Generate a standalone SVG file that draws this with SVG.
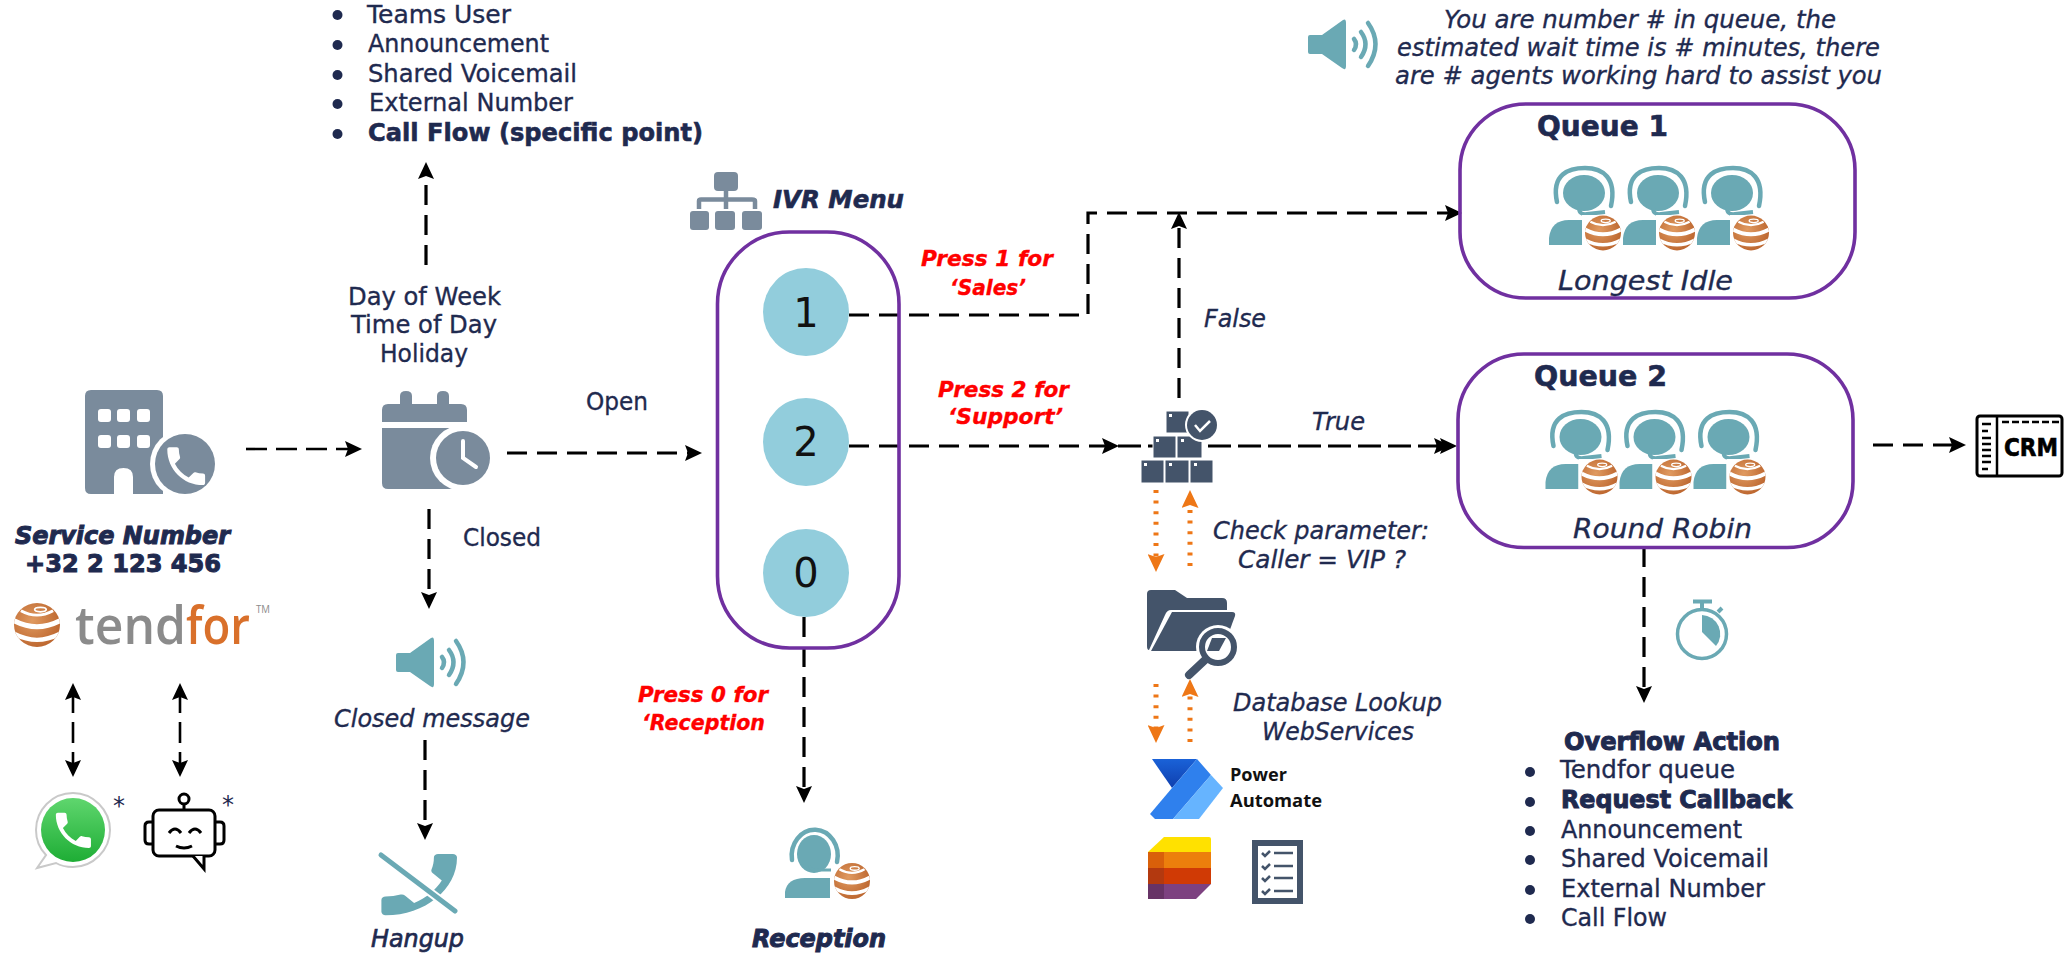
<svg xmlns="http://www.w3.org/2000/svg" xmlns:xlink="http://www.w3.org/1999/xlink" width="2064" height="954" viewBox="0 0 2064 954">
<style>
text{font-family:"DejaVu Sans","Liberation Sans",sans-serif;fill:#1f2a4f;stroke:#1f2a4f;stroke-width:.35px;font-size:24px}
.b{font-weight:bold;stroke-width:.6px}
.i{font-style:italic}
.r{fill:#f00;stroke:#f00;font-weight:bold;font-style:italic;font-size:22px}
.c{fill:none;stroke:#000;stroke-width:3.2;stroke-dasharray:20 10}
.t{fill:none;stroke:#000;stroke-width:2.6;stroke-dasharray:21 9}
.d{fill:none;stroke:#ee7716;stroke-width:5;stroke-dasharray:3 7.6}
.dv{fill:none;stroke:#ee7716;stroke-width:5;stroke-dasharray:3 7.6}
.box{fill:none;stroke:#7030a0;stroke-width:3.6}
.num{fill:#92cddc}
.g{fill:#7a8b9c}
.k{fill:#44546a}
.tl{fill:#6aa9b4}
.dot{fill:#1f2a4f}
.wv{fill:none;stroke:#6aa9b4;stroke-width:4.5;stroke-linecap:round}
.logo{font-family:"Open Sans",sans-serif;stroke:none}
</style>
<defs>
<marker id="a" markerUnits="userSpaceOnUse" markerWidth="17" markerHeight="16" viewBox="0 0 17 16" refX="8" refY="8" orient="auto"><path d="M0,0 L17,8 L0,16 L3,8z" fill="#000"/></marker>
<marker id="as" markerUnits="userSpaceOnUse" markerWidth="17" markerHeight="16" viewBox="0 0 17 16" refX="9" refY="8" orient="auto"><path d="M17,0 L0,8 L17,16 L14,8z" fill="#000"/></marker>
<marker id="o" markerUnits="userSpaceOnUse" markerWidth="18" markerHeight="17" viewBox="0 0 18 17" refX="8" refY="8.5" orient="auto"><path d="M0,0 L18,8.5 L0,17 L3,8.5z" fill="#ee7716"/></marker>
<radialGradient id="bg" cx=".4" cy=".4" r=".7"><stop offset="0" stop-color="#e09a60"/><stop offset="1" stop-color="#b9612a"/></radialGradient>
<linearGradient id="wg" x1="0" y1="0" x2="0" y2="1"><stop offset="0" stop-color="#5fd66e"/><stop offset="1" stop-color="#1ead35"/></linearGradient>
<linearGradient id="pa1" x1="0" y1="0" x2="0" y2="1"><stop offset="0" stop-color="#1a62d8"/><stop offset="1" stop-color="#0f3fae"/></linearGradient>
<clipPath id="bc"><circle r="20"/></clipPath>
<path id="ph" d="M6.62 10.79c1.44 2.83 3.76 5.14 6.59 6.59l2.2-2.2c.27-.27.67-.36 1.02-.24 1.12.37 2.33.57 3.57.57.55 0 1 .45 1 1V20c0 .55-.45 1-1 1-9.39 0-17-7.61-17-17 0-.55.45-1 1-1h3.5c.55 0 1 .45 1 1 0 1.25.2 2.45.57 3.57.11.35.03.74-.25 1.02l-2.2 2.2z"/>
<g id="ball"><circle r="20" fill="url(#bg)"/><g clip-path="url(#bc)" fill="none" stroke="#fff"><path d="M-20,-4 Q0,7 20,-4" stroke-width="4.5"/><path d="M-20,8 Q0,19 20,8" stroke-width="4"/><path d="M-14,-13 Q0,-5 14,-13" stroke-width="2.5"/><ellipse cx="3" cy="-14" rx="5" ry="2" stroke-width="1.5"/></g></g>
<g id="spk"><path class="tl" d="M2,16 L14,16 L35,1 Q38,-1 38,4 L38,47 Q38,52 34,49 L14,35 L2,35 Q0,35 0,33 L0,18 Q0,16 2,16z"/><path class="wv" d="M46,20 Q50,25 46,31"/><path class="wv" d="M53,13 Q62,25 53,38"/><path class="wv" d="M60,4 Q75,25 60,47"/></g>
<g id="agent"><rect x="45" y="38" width="42" height="30" fill="#fff"/><path class="tl" d="M0,66 L0,60 Q2,46 20,46 L45,46 L45,66z"/><path d="M7,28 A23 26 0 1 1 52,30" fill="none" stroke="#6aa9b4" stroke-width="4.5" stroke-linecap="round"/><ellipse class="tl" cx="29" cy="22" rx="17" ry="19"/><path d="M24,33 Q26,40 34,38 L46,38" fill="none" stroke="#6aa9b4" stroke-width="3"/><use href="#ball" transform="translate(67,49) scale(.9)"/></g>
<g id="qagent"><path class="tl" d="M0,79 L0,72 Q2,54 20,54 L33,54 L33,79z"/><path d="M8,36 C2,8 20,2 36,2 C54,2 68,12 62,40" fill="none" stroke="#6aa9b4" stroke-width="4.5" stroke-linecap="round"/><ellipse class="tl" cx="35" cy="27" rx="21" ry="18"/><path d="M30,42 Q30,49 38,48 L56,46" fill="none" stroke="#6aa9b4" stroke-width="4"/><rect x="33" y="49" width="40" height="35" fill="#fff"/><use href="#ball" transform="translate(54,67) scale(.9,.87)"/></g>
</defs>

<g id="connectors">
<path class="t" d="M246,449 H353" marker-end="url(#a)"/>
<path class="c" d="M507,453 H693" marker-end="url(#a)"/>
<path class="c" d="M426,265 V171" marker-end="url(#a)"/>
<path class="c" d="M429,509 V600" marker-end="url(#a)"/>
<path class="c" d="M425,740 V831" marker-end="url(#a)"/>
<path class="t" d="M73,692 V768" marker-start="url(#as)" marker-end="url(#a)"/>
<path class="t" d="M180,692 V768" marker-start="url(#as)" marker-end="url(#a)"/>
<path class="c" d="M849,315 H1088 V213 H1453" marker-end="url(#a)"/>
<path class="c" d="M849,446 H1110" marker-end="url(#a)"/>
<path class="c" d="M1179,398 V221" marker-end="url(#a)"/>
<path class="c" style="stroke-dasharray:23 7" d="M1118,446 H1448" marker-end="url(#a)"/>
<path class="c" style="stroke-dasharray:none" d="M1436,446 H1442" marker-end="url(#a)"/>
<path class="c" d="M804,617 V794" marker-end="url(#a)"/>
<path class="c" d="M1644,547 V694" marker-end="url(#a)"/>
<path class="c" d="M1873,445 H1957" marker-end="url(#a)"/>
<path class="d" d="M1156,490 V562" marker-end="url(#o)"/>
<path class="d" d="M1190,566 V500" marker-end="url(#o)"/>
<path class="d" d="M1156,684 V733" marker-end="url(#o)"/>
<path class="d" d="M1190,742 V689" marker-end="url(#o)"/>
</g>

<g id="service-number">
<path class="g" d="M91,390 H157 Q163,390 163,396 V494 H133 V477 Q133,468 123.500,468 Q114,468 114,477 V494 H91 Q85,494 85,488 V396 Q85,390 91,390z"/>
<g fill="#fff"><rect x="98" y="409" width="13" height="13" rx="3"/><rect x="117" y="409" width="13" height="13" rx="3"/><rect x="137" y="409" width="13" height="13" rx="3"/><rect x="98" y="435" width="13" height="13" rx="3"/><rect x="117" y="435" width="13" height="13" rx="3"/><rect x="137" y="435" width="13" height="13" rx="3"/></g>
<circle cx="185" cy="464" r="35" fill="#fff"/><circle class="g" cx="185" cy="464" r="30"/>
<use href="#ph" fill="#fff" transform="translate(161,441) scale(2.1)"/>
<text class="b i" x="15" y="544" textLength="215" lengthAdjust="spacingAndGlyphs" style="stroke-width:1px">Service Number</text>
<text class="b" x="25" y="572" textLength="196" lengthAdjust="spacingAndGlyphs" style="stroke-width:1px">+32 2 123 456</text>
</g>

<g id="tendfor-logo">
<use href="#ball" transform="translate(37,625) scale(1.15,1.1)"/>
<text class="logo" x="75" y="644" textLength="111" lengthAdjust="spacingAndGlyphs" style="font-size:52px;font-weight:600;fill:#8b8b8b">tend</text>
<text class="logo" x="186" y="644" textLength="64" lengthAdjust="spacingAndGlyphs" style="font-size:52px;font-weight:600;fill:#d9702b">for</text>
<text class="logo" x="256" y="613" textLength="14" lengthAdjust="spacingAndGlyphs" style="font-size:10px;fill:#8b8b8b">TM</text>
</g>

<g id="whatsapp">
<path d="M73,793 C52,793 36,810 36,830 C36,840 40,849 46,855 L37,868 L56,863 C61,866 67,867 73,867 C93,867 110,850 110,830 C110,810 93,793 73,793z" fill="#fff" stroke="#c9c9c9" stroke-width="2"/>
<circle cx="73" cy="830" r="32" fill="url(#wg)"/>
<use href="#ph" fill="#fff" transform="translate(50,807) scale(1.95)"/>
<text x="113" y="814" style="stroke:none">*</text>
</g>

<g id="chatbot" fill="none" stroke="#000" stroke-width="3">
<rect x="153" y="810" width="62" height="46" rx="6" fill="#fff"/>
<path d="M153,822 H149 Q145,822 145,826 V840 Q145,844 149,844 H153"/>
<path d="M215,822 H220 Q224,822 224,826 V840 Q224,844 220,844 H215"/>
<circle cx="184" cy="799" r="5"/><path d="M184,804 V810"/>
<path d="M193,856 L204,869 V856" fill="#fff"/>
<path d="M169,833 Q175,825 181,833"/><path d="M189,833 Q195,825 201,833"/><path d="M176,846 Q184,850 192,846"/>
<text x="222" y="813" style="stroke:none">*</text>
</g>

<g id="time-check">
<path class="g" d="M400,404 V396 Q400,391 406,391 Q412,391 412,396 V404 H437 V396 Q437,391 443,391 Q449,391 449,396 V404 H461 Q467,404 467,410 V422 H382 V410 Q382,404 388,404z"/>
<path class="g" d="M382,428 H467 V489 H388 Q382,489 382,483z"/>
<circle cx="463" cy="458" r="33" fill="#fff"/><circle class="g" cx="463" cy="458" r="27"/>
<path d="M463,441 V458 L476,467" fill="none" stroke="#fff" stroke-width="4" stroke-linecap="round"/>
<text x="348" y="305" textLength="153" lengthAdjust="spacingAndGlyphs">Day of Week</text>
<text x="351" y="333" textLength="146" lengthAdjust="spacingAndGlyphs">Time of Day</text>
<text x="380" y="362" textLength="88" lengthAdjust="spacingAndGlyphs">Holiday</text>
<text x="586" y="410" textLength="62" lengthAdjust="spacingAndGlyphs">Open</text>
<text x="463" y="546" textLength="78" lengthAdjust="spacingAndGlyphs">Closed</text>
</g>

<g id="destinations">
<circle class="dot" cx="337.500" cy="15" r="5"/><circle class="dot" cx="337.500" cy="45" r="5"/><circle class="dot" cx="337.500" cy="75" r="5"/><circle class="dot" cx="337.500" cy="104" r="5"/><circle class="dot" cx="337.500" cy="134" r="5"/>
<text x="367" y="23" textLength="144" lengthAdjust="spacingAndGlyphs">Teams User</text>
<text x="368" y="52" textLength="181" lengthAdjust="spacingAndGlyphs">Announcement</text>
<text x="368" y="82" textLength="209" lengthAdjust="spacingAndGlyphs">Shared Voicemail</text>
<text x="369" y="111" textLength="204" lengthAdjust="spacingAndGlyphs">External Number</text>
<text class="b" x="368" y="141" textLength="335" lengthAdjust="spacingAndGlyphs">Call Flow (specific point)</text>
</g>

<g id="closed-message">
<use href="#spk" transform="translate(396,637)"/>
<text class="i" x="334" y="727" textLength="196" lengthAdjust="spacingAndGlyphs">Closed message</text>
</g>

<g id="hangup">
<use href="#ph" class="tl" transform="translate(457,854) scale(-4.2,3.4) translate(-3,-3)"/>
<path d="M380,854 L456,912" stroke="#fff" stroke-width="9"/>
<path d="M381,855 L455,911" stroke="#6aa9b4" stroke-width="5" stroke-linecap="round"/>
<text class="i" x="371" y="947" textLength="93" lengthAdjust="spacingAndGlyphs" style="stroke-width:.7px">Hangup</text>
</g>

<g id="ivr-menu">
<g class="g"><rect x="714" y="172" width="24" height="19" rx="4"/><rect x="690" y="211" width="19" height="19" rx="3"/><rect x="715" y="211" width="20" height="19" rx="3"/><rect x="742" y="211" width="20" height="19" rx="3"/></g>
<path d="M726,190 V209 M699,209 V201 Q699,199.500 701,199.500 H752 Q755,199.500 755,201 V209" fill="none" stroke="#7a8b9c" stroke-width="4.500"/>
<text class="b i" x="773" y="208" textLength="131" lengthAdjust="spacingAndGlyphs">IVR Menu</text>
<rect class="box" x="717.500" y="232" width="181.500" height="416" rx="72" ry="72"/>
<ellipse class="num" cx="806" cy="312" rx="43" ry="44"/>
<ellipse class="num" cx="806" cy="442" rx="43" ry="44"/>
<ellipse class="num" cx="806" cy="573" rx="43" ry="44"/>
<text x="806" y="327" text-anchor="middle" style="font-size:40px;fill:#111;stroke:none">1</text>
<text x="806" y="456" text-anchor="middle" style="font-size:40px;fill:#111;stroke:none">2</text>
<text x="806" y="587" text-anchor="middle" style="font-size:40px;fill:#111;stroke:none">0</text>
</g>

<g id="connector-labels">
<text class="r" x="921" y="266" textLength="132" lengthAdjust="spacingAndGlyphs">Press 1 for</text>
<text class="r" x="950" y="295" textLength="76" lengthAdjust="spacingAndGlyphs">‘Sales’</text>
<text class="r" x="938" y="397" textLength="131" lengthAdjust="spacingAndGlyphs">Press 2 for</text>
<text class="r" x="948" y="424" textLength="115" lengthAdjust="spacingAndGlyphs">‘Support’</text>
<text class="r" x="638" y="702" textLength="130" lengthAdjust="spacingAndGlyphs">Press 0 for</text>
<text class="r" x="642" y="730" textLength="123" lengthAdjust="spacingAndGlyphs">‘Reception</text>
<text class="i" x="1204" y="327" textLength="62" lengthAdjust="spacingAndGlyphs">False</text>
<text class="i" x="1312" y="430" textLength="53" lengthAdjust="spacingAndGlyphs">True</text>
</g>

<g id="reception">
<use href="#agent" transform="translate(785,832)"/>
<text class="b i" x="752" y="947" textLength="134" lengthAdjust="spacingAndGlyphs" style="stroke-width:1px">Reception</text>
</g>

<g id="vip-check">
<g class="k" stroke="#fff" stroke-width="1"><rect x="1166" y="411" width="23" height="22"/><rect x="1153" y="436" width="23" height="22"/><rect x="1177" y="436" width="25" height="22"/><rect x="1141" y="460" width="23" height="23"/><rect x="1165" y="460" width="24" height="23"/><rect x="1190" y="460" width="23" height="23"/></g>
<g fill="#fff"><rect x="1169" y="414" width="3" height="3"/><rect x="1156" y="439" width="3" height="3"/><rect x="1181" y="439" width="3" height="3"/><rect x="1144" y="463" width="3" height="3"/><rect x="1169" y="463" width="3" height="3"/><rect x="1194" y="463" width="3" height="3"/></g>
<circle cx="1202" cy="425" r="17" fill="#fff"/><circle class="k" cx="1202" cy="425" r="15"/>
<path d="M1195,425 L1200,431 L1210,421" fill="none" stroke="#fff" stroke-width="2.500"/>
<text class="i" x="1213" y="539" textLength="216" lengthAdjust="spacingAndGlyphs">Check parameter:</text>
<text class="i" x="1238" y="568" textLength="168" lengthAdjust="spacingAndGlyphs">Caller = VIP ?</text>
</g>

<g id="database-lookup">
<path class="k" d="M1151,590 H1175 L1187,598 H1222 Q1227,598 1227,603 V610 H1171 Q1167,610 1165,615 L1149,650 Q1147,650 1147,646 V594 Q1147,590 1151,590z"/>
<path class="k" d="M1172,612 H1232 Q1236,612 1235,616 L1222,651 H1151z"/>
<circle cx="1218" cy="647" r="22" fill="#fff"/>
<circle cx="1218" cy="647" r="16" fill="#fff" stroke="#44546a" stroke-width="6"/>
<path class="k" d="M1212,638 H1226 L1219,651 H1207z"/>
<path d="M1205,660 L1189,675" stroke="#44546a" stroke-width="8" stroke-linecap="round"/>
<text class="i" x="1233" y="711" textLength="209" lengthAdjust="spacingAndGlyphs">Database Lookup</text>
<text class="i" x="1262" y="740" textLength="152" lengthAdjust="spacingAndGlyphs">WebServices</text>
</g>

<g id="power-automate">
<path fill="url(#pa1)" d="M1152,759 H1197 L1172,788z"/>
<path fill="#2f80ed" d="M1197,759 L1211,775 L1173,819 H1155 L1150,814 L1172,788z"/>
<path fill="#66b4ff" d="M1211,775 L1223,788 L1199,819 H1173z"/>
<text class="logo" x="1230" y="781" textLength="57" lengthAdjust="spacingAndGlyphs" style="font-weight:bold;font-size:17px;fill:#111">Power</text>
<text class="logo" x="1230" y="807" textLength="92" lengthAdjust="spacingAndGlyphs" style="font-weight:bold;font-size:17px;fill:#111">Automate</text>
</g>

<g id="lists">
<path fill="#ffe100" d="M1164,837 H1209 Q1211,837 1211,839 V852 H1148z"/>
<rect x="1148" y="852" width="63" height="16" fill="#ec7f0c"/><rect x="1148" y="852" width="16" height="16" fill="#d9600a"/>
<rect x="1148" y="868" width="63" height="16" fill="#d03a05"/><rect x="1148" y="868" width="16" height="16" fill="#b3390f"/>
<path fill="#7d4180" d="M1148,884 H1211 L1196,899 H1150 Q1148,899 1148,897z"/><rect x="1148" y="884" width="16" height="15" fill="#673366"/>
</g>

<g id="checklist">
<rect class="k" x="1252" y="840" width="51" height="64"/><rect x="1258" y="846" width="39" height="52" fill="#fff"/>
<path d="M1262,853 L1265,856 L1270,851 M1262,866 L1265,869 L1270,864 M1262,878 L1265,881 L1270,876 M1262,891 L1265,894 L1270,889" fill="none" stroke="#44546a" stroke-width="2.500"/>
<path d="M1274,853 H1293 M1274,866 H1293 M1274,878 H1293 M1274,891 H1293" stroke="#44546a" stroke-width="2.500"/>
</g>

<g id="queue-message">
<use href="#spk" transform="translate(1308,19)"/>
<text class="i" x="1444" y="28" textLength="392" lengthAdjust="spacingAndGlyphs" style="font-size:25px">You are number # in queue, the</text>
<text class="i" x="1397" y="56" textLength="483" lengthAdjust="spacingAndGlyphs" style="font-size:25px">estimated wait time is # minutes, there</text>
<text class="i" x="1395" y="84" textLength="487" lengthAdjust="spacingAndGlyphs" style="font-size:25px">are # agents working hard to assist you</text>
</g>

<g id="queue-1">
<rect class="box" x="1460" y="104" width="395" height="194" rx="66" ry="66"/>
<text class="b" x="1537" y="136" textLength="131" lengthAdjust="spacingAndGlyphs" style="font-size:28px">Queue 1</text>
<use href="#qagent" transform="translate(1549,166)"/>
<use href="#qagent" transform="translate(1623,166)"/>
<use href="#qagent" transform="translate(1697,166)"/>
<text class="i" x="1558" y="290" textLength="175" lengthAdjust="spacingAndGlyphs" style="font-size:27px">Longest Idle</text>
</g>

<g id="queue-2">
<rect class="box" x="1458" y="354" width="395" height="193.500" rx="66" ry="66"/>
<text class="b" x="1534" y="386" textLength="133" lengthAdjust="spacingAndGlyphs" style="font-size:28px">Queue 2</text>
<use href="#qagent" transform="translate(1545.500,410)"/>
<use href="#qagent" transform="translate(1619.500,410)"/>
<use href="#qagent" transform="translate(1693.500,410)"/>
<text class="i" x="1573" y="538" textLength="179" lengthAdjust="spacingAndGlyphs" style="font-size:27px">Round Robin</text>
</g>

<g id="crm">
<rect x="1977" y="416" width="85" height="60" rx="3" fill="#fff" stroke="#000" stroke-width="3"/>
<path d="M1997,416 V476" stroke="#000" stroke-width="2.500"/>
<path d="M2002,422 H2059" stroke="#000" stroke-width="2.500" stroke-dasharray="7 3"/>
<path d="M1982,424 H1991 M1982,431 H1988 M1982,438 H1991 M1982,444 H1991 M1982,450 H1991 M1982,456 H1991 M1982,462 H1991 M1982,469 H1988" stroke="#000" stroke-width="2.500"/>
<text class="b" x="2004" y="456" textLength="54" lengthAdjust="spacingAndGlyphs" style="font-size:24px;fill:#000;stroke:#000">CRM</text>
</g>

<g id="overflow-timer">
<circle cx="1702" cy="634" r="24.500" fill="none" stroke="#6aa9b4" stroke-width="3.500"/>
<path d="M1693,601.500 H1712 M1702,601 V609 M1718,612 L1722,608" fill="none" stroke="#6aa9b4" stroke-width="4"/>
<path class="tl" d="M1702,615 A19 19 0 0 1 1716,646 L1702,632z"/>
</g>

<g id="overflow-action">
<text class="b" x="1564" y="750" textLength="216" lengthAdjust="spacingAndGlyphs" style="stroke-width:1px">Overflow Action</text>
<circle class="dot" cx="1530" cy="772" r="5"/><circle class="dot" cx="1530" cy="802" r="5"/><circle class="dot" cx="1530" cy="831" r="5"/><circle class="dot" cx="1530" cy="860" r="5"/><circle class="dot" cx="1530" cy="890" r="5"/><circle class="dot" cx="1530" cy="919" r="5"/>
<text x="1560" y="778" textLength="175" lengthAdjust="spacingAndGlyphs">Tendfor queue</text>
<text class="b" x="1561" y="808" textLength="231" lengthAdjust="spacingAndGlyphs" style="stroke-width:1px">Request Callback</text>
<text x="1561" y="838" textLength="181" lengthAdjust="spacingAndGlyphs">Announcement</text>
<text x="1561" y="867" textLength="208" lengthAdjust="spacingAndGlyphs">Shared Voicemail</text>
<text x="1561" y="897" textLength="204" lengthAdjust="spacingAndGlyphs">External Number</text>
<text x="1561" y="926" textLength="106" lengthAdjust="spacingAndGlyphs">Call Flow</text>
</g>
</svg>
